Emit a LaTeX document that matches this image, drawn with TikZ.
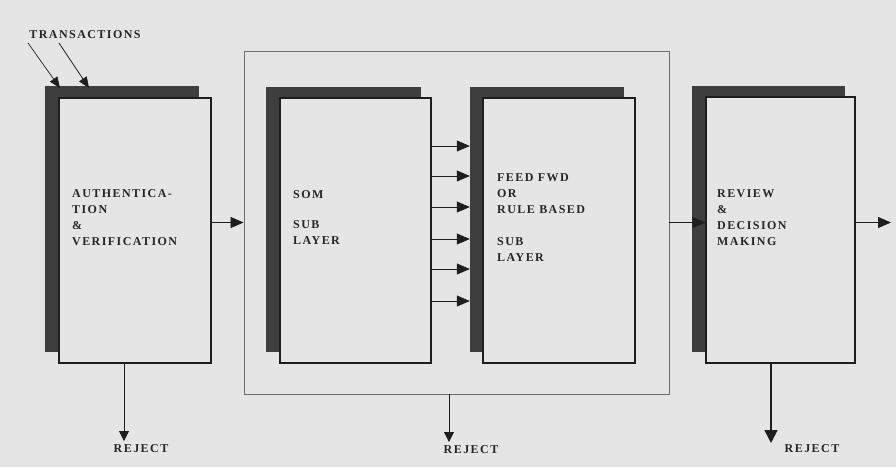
\documentclass[tikz,border=0pt]{standalone}
\usepackage{fontspec}
\setmainfont{Liberation Serif}[LetterSpace=12]
\usetikzlibrary{arrows.meta,fit}
\definecolor{bgc}{HTML}{E5E5E5}
\definecolor{shadc}{HTML}{3E3E3E}
\definecolor{linec}{HTML}{1E1E1E}
\definecolor{outc}{HTML}{6E6E6E}
\tikzset{
  frontbox/.style={draw=linec, line width=1.1pt, fill=bgc, inner sep=0pt},
  shadowbox/.style={fill=shadc, draw=none, inner sep=0pt},
  outerbox/.style={draw=outc, line width=0.9pt, inner sep=0pt},
  lbl/.style={font=\fontsize{12}{16}\selectfont\bfseries, align=left, inner sep=0pt, text=black!85},
  arr/.style={draw=linec, line width=0.8pt, -{Triangle[length=13pt,width=11pt]}},
  rarr/.style={draw=linec, line width=0.8pt, -{Triangle[length=10pt,width=10pt]}},
  tarr/.style={draw=linec, line width=0.7pt, -{Triangle[length=11pt,width=9pt]}},
}
\begin{document}
\begin{tikzpicture}[x=1pt,y=-1pt]
\fill[bgc] (0,0) rectangle (896,467);
\useasboundingbox (0,0) rectangle (896,467);

% outer frame
\node[outerbox, fit={(244,51) (669,394)}] (outer) {};

% box 1
\node[shadowbox, fit={(45,86) (199,352)}] (s1) {};
\node[frontbox, fit={(59,98) (211,363)}] (b1) {};
\node[lbl, anchor=north west] (t1) at (72,189) {AUTHENTICA-\\TION\\\&\\VERIFICATION};

% box 2
\node[shadowbox, fit={(266,87) (421,352)}] (s2) {};
\node[frontbox, fit={(280,98) (431,363)}] (b2) {};
\node[lbl, anchor=north west] (t2) at (293,190) {SOM\\[14pt]SUB\\LAYER};

% box 3
\node[shadowbox, fit={(470,87) (624,352)}] (s3) {};
\node[frontbox, fit={(483,98) (635,363)}] (b3) {};
\node[lbl, anchor=north west] (t3) at (497,173) {FEED FWD\\OR\\RULE BASED\\[16pt]SUB\\LAYER};

% box 4
\node[shadowbox, fit={(692,86) (845,352)}] (s4) {};
\node[frontbox, fit={(706,97) (855,363)}] (b4) {};
\node[lbl, anchor=north west] (t4) at (717,189) {REVIEW\\\&\\DECISION\\MAKING};

% transactions
\node[lbl] (trans) at (85,35) {TRANSACTIONS};
\coordinate (ta1) at (28,43);
\coordinate (ta2) at (59,43);
\coordinate (te1) at (60,88);
\coordinate (te2) at (89,88);
\draw[tarr] (ta1) -- (te1);
\draw[tarr] (ta2) -- (te2);

% main flow
\draw[arr] (b1.east |- outer.west) -- (outer.west);
\draw[arr] (outer.east) -- (b4.west |- outer.east);
\coordinate (out) at (891,222.5);
\draw[arr] (b4.east |- outer.east) -- (out);

% som to feed forward arrows
\foreach \yy in {146,176,207,239,269,301}
  \draw[arr] (b2.east |- 0,\yy) -- (s3.west |- 0,\yy);

% rejects
\node[lbl] (r1) at (141,449) {REJECT};
\node[lbl] (r2) at (471,450) {REJECT};
\node[lbl] (r3) at (812,449) {REJECT};
\coordinate (re1) at (124,441);
\coordinate (re2) at (449,442);
\coordinate (re3) at (771,443);
\draw[rarr] (b1.south -| re1) -- (re1);
\draw[rarr] (outer.south -| re2) -- (re2);
\draw[rarr, line width=1.6pt, -{Triangle[length=13pt,width=13pt]}] (b4.south -| re3) -- (re3);
\end{tikzpicture}
\end{document}
